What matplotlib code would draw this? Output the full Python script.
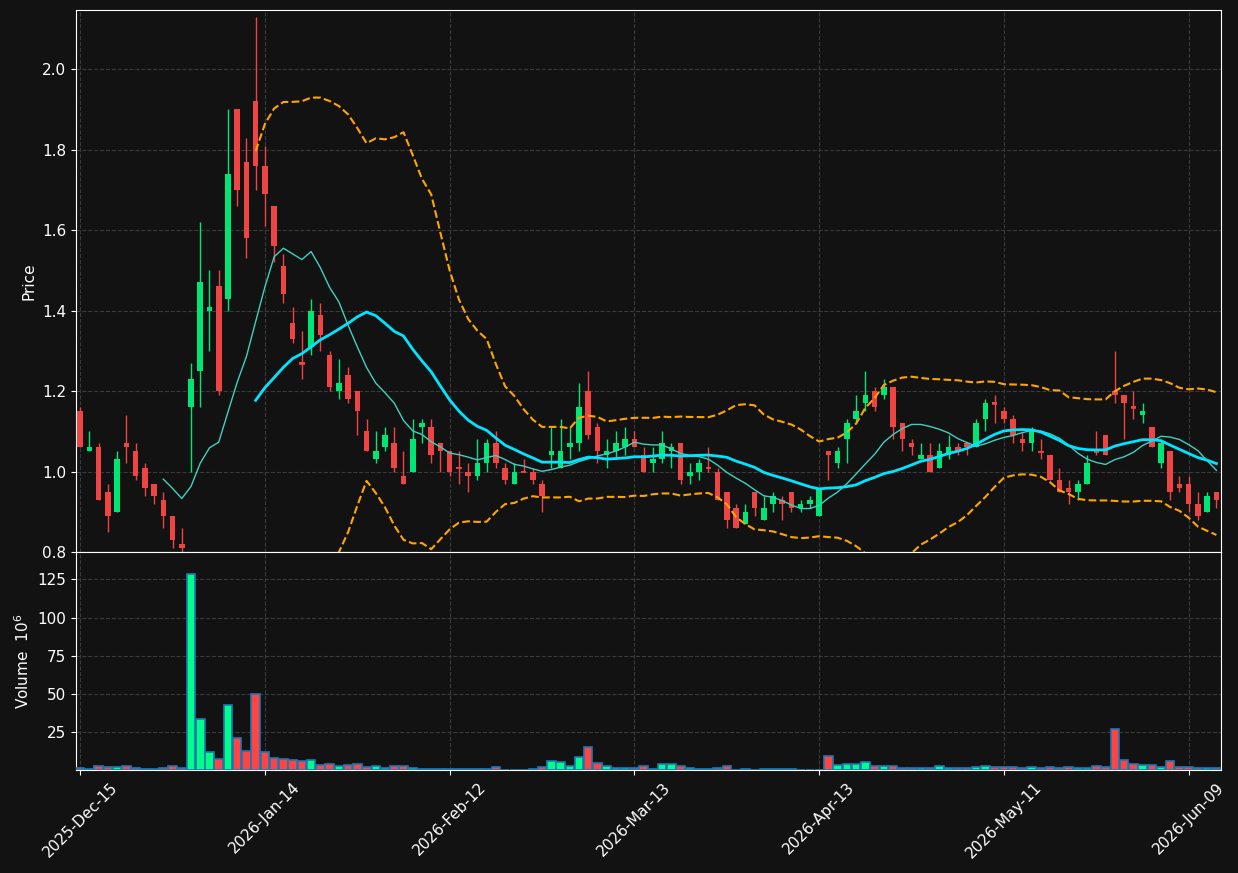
import numpy as np
import pandas as pd
import matplotlib
matplotlib.use("Agg")
import matplotlib.pyplot as plt

# trading calendar (US market holidays skipped)
holidays = ["2025-12-25", "2026-01-01", "2026-01-19", "2026-02-16", "2026-04-03", "2026-05-25"]
dates = pd.bdate_range("2025-12-15", periods=124, freq="C", holidays=holidays)

opens = [1.15, 1.05, 1.06, 0.95, 0.90, 1.07, 1.05, 1.01, 0.97, 0.93,
         0.89, 0.82, 1.16, 1.25, 1.40, 1.46, 1.43, 1.90, 1.77, 1.92,
         1.76, 1.66, 1.51, 1.37, 1.272, 1.31, 1.39, 1.29, 1.20, 1.24,
         1.20, 1.10, 1.03, 1.06, 1.07, 0.99, 1.00, 1.11, 1.11, 1.07,
         1.05, 1.012, 1.00, 0.99, 1.02, 1.07, 1.01, 0.97, 1.002, 1.00,
         0.97, 1.04, 1.01, 1.06, 1.07, 1.20, 1.11, 1.04, 1.05, 1.06,
         1.08, 1.04, 1.02, 1.03, 1.05, 1.07, 0.99, 1.00, 1.012, 1.00,
         0.95, 0.91, 0.87, 0.95, 0.88, 0.92, 0.93, 0.95, 0.91, 0.92,
         0.89, 1.05, 1.02, 1.08, 1.13, 1.17, 1.20, 1.19, 1.21, 1.12,
         1.07, 1.03, 1.04, 1.01, 1.04, 1.06, 1.07, 1.06, 1.13, 1.172,
         1.15, 1.13, 1.08, 1.07, 1.052, 1.04, 0.98, 0.96, 0.95, 0.97,
         1.052, 1.09, 1.20, 1.19, 1.162, 1.14, 1.11, 1.02, 1.05, 0.97,
         0.97, 0.92, 0.90, 0.95]
highs = [1.16, 1.10, 1.07, 0.97, 1.05, 1.14, 1.07, 1.02, 0.97, 0.95,
         0.89, 0.86, 1.27, 1.62, 1.50, 1.50, 1.90, 1.90, 1.83, 2.13,
         1.81, 1.66, 1.54, 1.41, 1.35, 1.43, 1.42, 1.30, 1.28, 1.26,
         1.20, 1.13, 1.10, 1.11, 1.11, 1.05, 1.13, 1.13, 1.13, 1.07,
         1.05, 1.05, 1.02, 1.08, 1.08, 1.10, 1.02, 1.02, 1.03, 1.01,
         0.98, 1.11, 1.13, 1.11, 1.22, 1.25, 1.12, 1.08, 1.10, 1.11,
         1.10, 1.06, 1.06, 1.10, 1.07, 1.07, 1.02, 1.03, 1.06, 1.01,
         0.95, 0.92, 0.92, 0.95, 0.94, 0.95, 0.94, 0.95, 0.93, 0.94,
         0.96, 1.05, 1.06, 1.13, 1.19, 1.25, 1.21, 1.23, 1.21, 1.12,
         1.08, 1.07, 1.07, 1.07, 1.09, 1.07, 1.07, 1.13, 1.18, 1.19,
         1.16, 1.14, 1.10, 1.11, 1.08, 1.04, 1.01, 0.98, 0.98, 1.04,
         1.10, 1.09, 1.30, 1.19, 1.20, 1.17, 1.11, 1.08, 1.05, 0.99,
         0.99, 0.95, 0.95, 0.95]
lows = [1.06, 1.05, 0.93, 0.85, 0.90, 1.02, 0.98, 0.94, 0.92, 0.86,
        0.81, 0.80, 1.00, 1.16, 1.30, 1.19, 1.40, 1.66, 1.53, 1.70,
        1.61, 1.52, 1.42, 1.32, 1.23, 1.29, 1.30, 1.20, 1.18, 1.17,
        1.09, 1.05, 1.02, 1.05, 1.00, 0.97, 1.00, 1.07, 1.02, 1.00,
        0.99, 0.97, 0.95, 0.98, 1.00, 1.01, 0.97, 0.97, 1.00, 0.97,
        0.90, 1.01, 1.01, 1.03, 1.05, 1.08, 1.02, 1.01, 1.03, 1.04,
        1.06, 1.00, 1.00, 1.02, 1.01, 0.97, 0.97, 0.98, 1.00, 0.93,
        0.86, 0.86, 0.87, 0.89, 0.88, 0.90, 0.88, 0.90, 0.90, 0.91,
        0.89, 0.98, 1.01, 1.02, 1.12, 1.15, 1.15, 1.18, 1.08, 1.05,
        1.04, 1.03, 1.00, 1.01, 1.03, 1.04, 1.04, 1.06, 1.10, 1.12,
        1.12, 1.07, 1.05, 1.05, 1.03, 0.98, 0.95, 0.92, 0.93, 0.97,
        1.04, 1.04, 1.17, 1.08, 1.13, 1.12, 1.06, 1.01, 0.93, 0.95,
        0.90, 0.88, 0.90, 0.91]
closes = [1.06, 1.06, 0.93, 0.89, 1.03, 1.06, 0.99, 0.96, 0.94, 0.89,
          0.83, 0.81, 1.23, 1.47, 1.41, 1.20, 1.74, 1.70, 1.58, 1.76,
          1.69, 1.56, 1.44, 1.33, 1.268, 1.40, 1.34, 1.21, 1.22, 1.18,
          1.15, 1.05, 1.05, 1.09, 1.01, 0.97, 1.08, 1.12, 1.04, 1.05,
          1.00, 1.008, 0.99, 1.02, 1.07, 1.02, 0.98, 1.00, 0.998, 0.98,
          0.94, 1.05, 1.05, 1.07, 1.16, 1.09, 1.05, 1.05, 1.07, 1.08,
          1.06, 1.00, 1.03, 1.07, 1.06, 0.98, 1.00, 1.02, 1.008, 0.93,
          0.88, 0.86, 0.90, 0.91, 0.91, 0.94, 0.92, 0.91, 0.92, 0.93,
          0.96, 1.04, 1.05, 1.12, 1.15, 1.19, 1.16, 1.21, 1.11, 1.08,
          1.06, 1.04, 1.00, 1.05, 1.06, 1.05, 1.06, 1.12, 1.17, 1.168,
          1.13, 1.09, 1.07, 1.10, 1.048, 0.98, 0.95, 0.95, 0.97, 1.02,
          1.048, 1.04, 1.19, 1.17, 1.158, 1.15, 1.06, 1.07, 0.95, 0.96,
          0.92, 0.89, 0.94, 0.93]
# volume in millions
volumes = [1.4, 0.8, 3.1, 2.3, 2.3, 3.1, 1.8, 0.8, 0.8, 1.8,
           2.7, 1.8, 128.8, 33.9, 11.9, 7.3, 42.7, 21.1, 12.8, 49.9,
           11.9, 8.0, 7.3, 6.7, 6.0, 6.7, 3.6, 4.1, 2.7, 3.6,
           4.1, 2.3, 2.7, 1.8, 2.7, 2.7, 1.8, 1.2, 1.2, 1.2,
           1.2, 1.2, 1.2, 1.2, 1.2, 2.1, 0.5, 0.5, 0.5, 1.2,
           2.1, 6.0, 5.4, 2.7, 8.6, 15.2, 4.7, 2.7, 1.8, 1.8,
           1.8, 2.7, 1.2, 4.0, 4.0, 2.7, 1.8, 1.2, 1.2, 1.8,
           2.7, 0.5, 1.2, 0.5, 1.2, 1.2, 1.2, 1.2, 0.5, 0.5,
           0.5, 9.3, 3.4, 4.0, 4.0, 5.4, 2.7, 2.7, 2.7, 1.4,
           1.4, 1.4, 1.4, 2.7, 1.4, 1.4, 1.4, 2.1, 2.7, 2.1,
           2.1, 2.1, 1.4, 2.1, 1.4, 2.1, 1.4, 2.1, 1.4, 1.4,
           2.7, 2.1, 27.0, 6.7, 4.0, 3.4, 3.4, 2.1, 6.0, 2.1,
           2.1, 1.4, 1.4, 1.4]

df = pd.DataFrame({"Open": opens, "High": highs, "Low": lows,
                   "Close": closes, "Volume": volumes}, index=dates)

BG = "#121212"
UP, DOWN = "#00e676", "#ef4444"
VUP, VDOWN = "#00ff88", "#ff4444"

x = np.arange(len(df))
up = df["Close"].values > df["Open"].values
ccol = np.where(up, UP, DOWN)
vcol = np.where(up, VUP, VDOWN)

sma10 = df["Close"].rolling(10).mean()
sma20 = df["Close"].rolling(20).mean()
std20 = df["Close"].rolling(20).std(ddof=0)
upper = sma20 + 2 * std20
lower = sma20 - 2 * std20

fig = plt.figure(figsize=(12.38, 8.73), dpi=100, facecolor=BG)
ax = fig.add_axes([0.0614, 0.3677, 0.9249, 0.6208])
axv = fig.add_axes([0.0614, 0.1180, 0.9249, 0.2497], sharex=ax)

for a in (ax, axv):
    a.set_facecolor(BG)
    for s in a.spines.values():
        s.set_color("white")
    a.tick_params(colors="white", labelsize=11)
    a.grid(True, linestyle="--", color="#3a3a3a", linewidth=0.8)
    a.set_axisbelow(True)

# candles
ax.vlines(x, df["Low"], df["High"], colors=ccol, linewidth=1.0, zorder=2)
body_lo = np.minimum(df["Open"], df["Close"])
body_h = np.abs(df["Close"] - df["Open"])
ax.bar(x, body_h, bottom=body_lo, width=0.6, color=ccol, linewidth=0, zorder=3)
doji = body_h < 0.006
ax.hlines(df["Close"][doji], x[doji] - 0.3, x[doji] + 0.3, colors=ccol[doji],
          linewidth=1.2, zorder=3)

ax.plot(x, sma10, color="#40d0c0", linewidth=1.0, zorder=4)
ax.plot(x, sma20, color="#00e5ff", linewidth=2.0, zorder=4)
ax.plot(x, upper, color="#ffa500", linestyle="--", linewidth=1.5, zorder=4)
ax.plot(x, lower, color="#ffa500", linestyle="--", linewidth=1.5, zorder=4)

ax.set_ylim(0.8, 2.147)
ax.set_yticks([0.8, 1.0, 1.2, 1.4, 1.6, 1.8, 2.0])
ax.set_ylabel("Price", color="white", fontsize=11)
ax.tick_params(axis="x", labelbottom=False, length=0)

# volume
axv.bar(x, df["Volume"], width=0.92, color=vcol, edgecolor="#1f77b4",
        linewidth=1.2, zorder=3)
axv.set_ylim(0.3, 143)
axv.set_yticks([25, 50, 75, 100, 125])
axv.set_ylabel("Volume  $10^{6}$", color="white", fontsize=11)

ticks = x[::20]
axv.set_xticks(ticks)
axv.set_xticklabels([d.strftime("%Y-%b-%d") for d in dates[ticks]],
                    rotation=45, ha="center", color="white", fontsize=11)
axv.set_xlim(-0.45, 123.5)

fig.savefig("out.png", dpi=100, facecolor=BG)
